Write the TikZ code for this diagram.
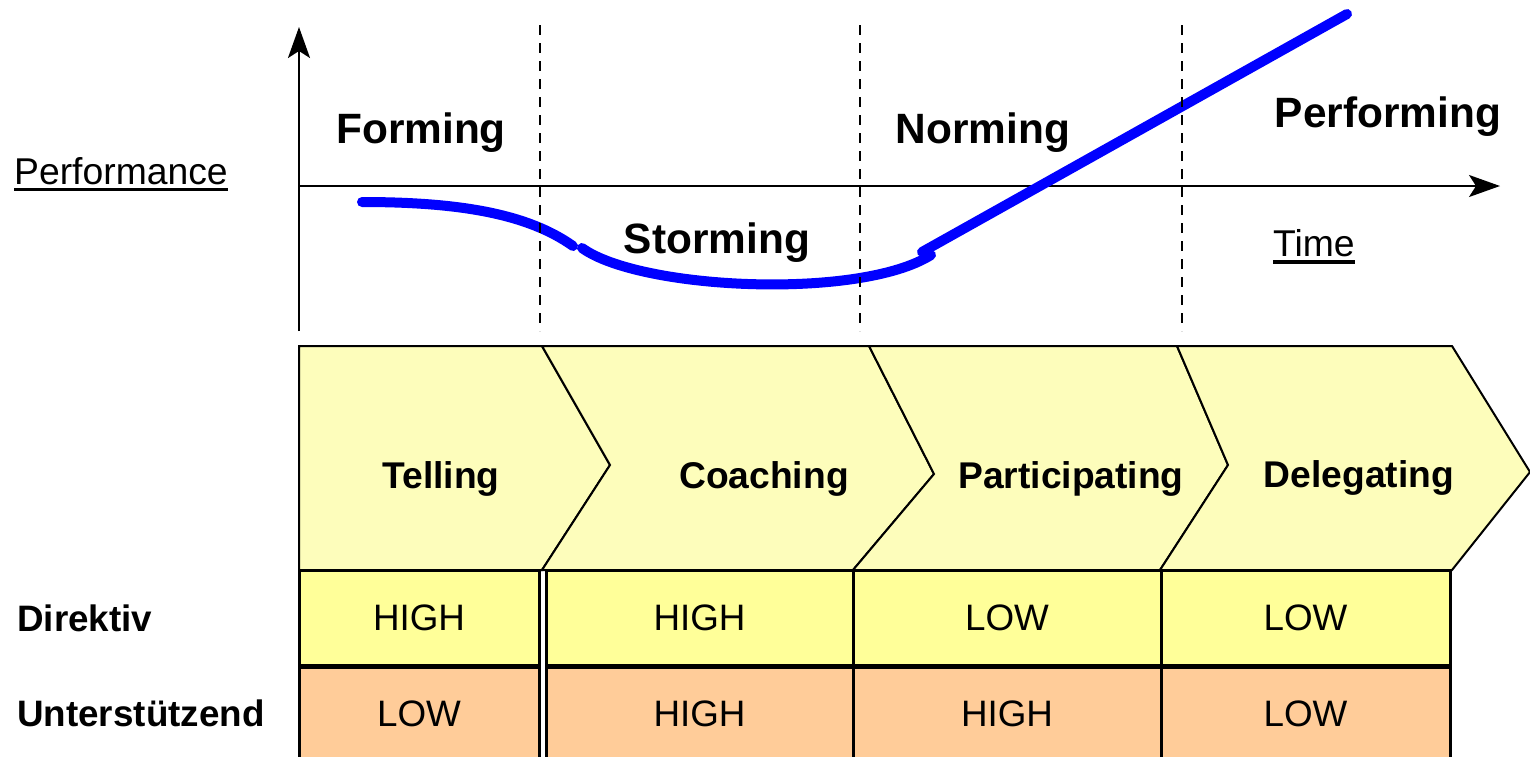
\documentclass[tikz,border=0pt]{standalone}
\usepackage{fontspec}
\setmainfont{Liberation Sans}
\usetikzlibrary{arrows.meta}

\definecolor{chevronyellow}{RGB}{253,253,187}
\definecolor{directyellow}{RGB}{255,255,153}
\definecolor{supportorange}{RGB}{255,204,153}
\definecolor{curveblue}{RGB}{0,0,255}

% thick underline for the axis names
\newcommand{\ulword}[1]{\setbox0\hbox{#1}\rlap{\rule[-7pt]{\wd0}{3.4pt}}\box0}

\begin{document}
\begin{tikzpicture}[x=1pt,y=-1pt,
    phase/.style={font=\fontsize{42.4}{48}\selectfont\bfseries, anchor=base, inner sep=0pt},
    leadstyle/.style={font=\fontsize{37.2}{44}\selectfont\bfseries, anchor=base, inner sep=0pt},
    rowname/.style={font=\fontsize{36.8}{44}\selectfont\bfseries, anchor=base west, inner sep=0pt},
    axisname/.style={font=\fontsize{37.3}{44}\selectfont, anchor=base west, inner sep=0pt},
    axis/.style={draw=black, line width=2pt, -{Stealth[length=31pt,width=22pt,inset=7pt]}},
    phaseline/.style={draw=black, line width=2.2pt, dash pattern=on 10pt off 8pt},
    chevron/.style={draw=black, line width=2pt, fill=chevronyellow, line join=miter},
    cell/.style={draw=black, line width=3pt, inner sep=0pt, font=\fontsize{36.8}{44}\selectfont},
    teamcurve/.style={draw=curveblue, line width=10pt, line cap=round}
  ]
  \useasboundingbox (0,0) rectangle (1530,756);

  % Axes of the performance chart
  \coordinate (ybottom) at (299,331);
  \coordinate (ytop) at (299,27);
  \coordinate (origin) at (299,186);
  \coordinate (xend) at (1500,186);
  \draw[axis] (ybottom) -- (ytop);
  \draw[axis] (origin) -- (xend);

  \node[axisname] (perf) at (14,184.3) {\ulword{Performance}};
  \node[axisname] (time) at (1273,256.7) {\ulword{Time}};

  % Performance curve, drawn in three pieces
  \draw[teamcurve] (362,202) .. controls (460,202) and (528,214) .. (573,246);
  \draw[teamcurve] (582,248) .. controls (640,290) and (860,300) .. (931,255);
  \draw[teamcurve] (922,252) -- (1347,14);

  % Borders between the phases
  \foreach \x in {540,860,1182}
    \draw[phaseline] (\x,25) -- (\x,331);

  \node[phase] (forming) at (421,143) {Forming};
  \node[phase] (storming) at (717,253) {Storming};
  \node[phase] (norming) at (983,143) {Norming};
  \node[phase] (performing) at (1388,127) {Performing};

  % Chevrons for the leadership styles
  \draw[chevron] (299,346) -- (542,346) -- (610,465) -- (542,570) -- (299,570) -- cycle;
  \draw[chevron] (542,346) -- (869,346) -- (934,474) -- (853,570) -- (542,570) -- (610,465) -- cycle;
  \draw[chevron] (869,346) -- (1177,346) -- (1228,465) -- (1160,570) -- (853,570) -- (934,474) -- cycle;
  \draw[chevron] (1177,346) -- (1452,346) -- (1530,472) -- (1452,570) -- (1160,570) -- (1228,465) -- cycle;

  \node[leadstyle] (telling) at (441,488) {Telling};
  \node[leadstyle] (coaching) at (764,488) {Coaching};
  \node[leadstyle] (participating) at (1071,488) {Participating};
  \node[leadstyle] (delegating) at (1359,487) {Delegating};

  % Table of directive and supportive behaviour
  \node[rowname] (direktiv) at (17,631.7) {Direktiv};
  \node[rowname] (unterstuetzend) at (17,726.7) {Unterstützend};

  \foreach \name/\cx/\w/\dirval/\supval in {telling/419/240/HIGH/LOW,
      coaching/699.5/307/HIGH/HIGH, participating/1007/308/LOW/HIGH,
      delegating/1305.5/289/LOW/LOW} {
    \node[cell, fill=directyellow, minimum width=\w pt, minimum height=95pt]
      (dir-\name) at (\cx,617.5) {\dirval};
    \node[cell, fill=supportorange, minimum width=\w pt, minimum height=94pt]
      (sup-\name) at (\cx,714) {\supval};
  }
\end{tikzpicture}
\end{document}
